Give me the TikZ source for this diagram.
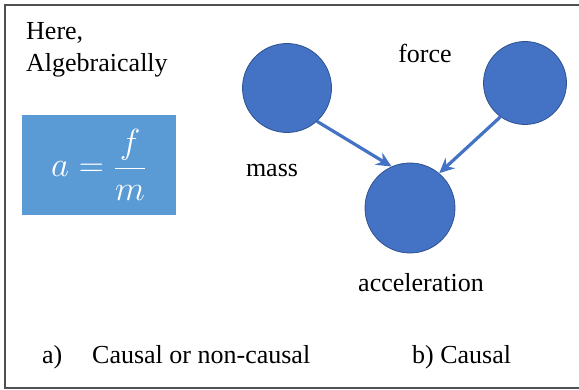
\documentclass[tikz,border=0pt]{standalone}
\usepackage{fontspec}
\usepackage{graphicx}
\setmainfont{Liberation Serif}
\usetikzlibrary{arrows.meta,positioning}
\definecolor{nodeblue}{HTML}{4472C4}
\definecolor{rimblue}{HTML}{2F528F}
\definecolor{boxblue}{HTML}{5B9BD5}
\definecolor{frame}{HTML}{505050}

\begin{document}
\begin{tikzpicture}[x=1pt,y=-1pt,font=\fontsize{26}{30}\selectfont,var/.style={circle,fill=nodeblue,draw=rimblue,line width=.8pt,inner sep=0pt},lbl/.style={inner sep=0pt,anchor=base},cause/.style={-{Stealth[length=15pt,width=14pt]},line width=3.2pt,nodeblue}]
 \useasboundingbox (0,0) rectangle (579,390);
 \draw[frame,line width=1.6pt] (585,5)--(5,5)--(5,388)--(585,388);
 \node[lbl,anchor=base west] (here) at (26,40) {Here,};
 \node[lbl,anchor=base west] (alg) at (26,72) {Algebraically};
 \node[fill=boxblue,minimum width=154pt,minimum height=100pt,text=white] (eq) at (99,165) {\scalebox{1.4}{$\displaystyle a=\frac{f}{m}$}};
 \node[var,minimum size=89pt] (mass) at (287,88) {};
 \node[var,minimum size=83pt] (force) at (525,83) {};
 \node[var,minimum size=90pt] (acc) at (410,208) {};
 \draw[cause] (mass.-48)--(acc.114); \draw[cause] (force.-126)--(acc.50);
 \node[lbl] (masslbl) at (272,177) {mass};
 \node[lbl] (forcelbl) at (425,63) {force};
 \node[lbl] (acclbl) at (421,292) {acceleration};
 \node[lbl,anchor=base west] (capa) at (42,363) {a)};
 \node[lbl,anchor=base west] (capatext) at (92,363) {Causal or non-causal};
 \node[lbl,anchor=base west] (capb) at (412,363) {b) Causal};
\end{tikzpicture}
\end{document}
